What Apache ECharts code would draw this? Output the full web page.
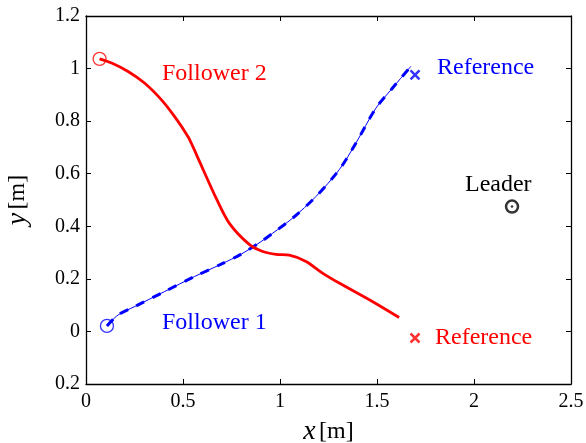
<!DOCTYPE html>
<html>
<head>
<meta charset="utf-8">
<script src="https://cdn.jsdelivr.net/npm/echarts@6/dist/echarts.min.js"></script>
<style>
  html, body { margin: 0; padding: 0; background: #fff; }
  #chart { width: 586px; height: 443px; }
</style>
</head>
<body>
<div id="chart"></div>
<script>
// trajectories, [x, y] in metres
const follower2Path = [
  [0.07, 1.037], [0.132, 1.021], [0.217, 0.989], [0.303, 0.944], [0.389, 0.881],
  [0.457, 0.817], [0.526, 0.741], [0.551, 0.703], [0.586, 0.645], [0.672, 0.505],
  [0.74, 0.41], [0.843, 0.330], [0.911, 0.304], [0.98, 0.293], [1.048, 0.290],
  [1.134, 0.266], [1.219, 0.222], [1.305, 0.184], [1.476, 0.114], [1.614, 0.053]
];
const follower1Path = [
  [0.108, 0.021], [0.166, 0.063], [0.252, 0.095], [0.406, 0.152], [0.56, 0.209],
  [0.697, 0.256], [0.8, 0.294], [0.903, 0.342], [0.963, 0.374], [1.065, 0.431],
  [1.185, 0.513], [1.305, 0.615], [1.391, 0.716], [1.494, 0.849], [1.579, 0.925],
  [1.674, 1.008]
];
const follower1Start = [[0.108, 0.021]];
const follower2Start = [[0.07, 1.037]];
const ref1Goal = [[1.696, 0.976]];
const ref2Goal = [[1.696, -0.025]];
const leaderPos = [[2.196, 0.475]];

const yTickLabels = { '-0.2': '0.2', '0': '0', '0.2': '0.2', '0.4': '0.4', '0.6': '0.6', '0.8': '0.8', '1': '1', '1.2': '1.2' };

const serif = 'Liberation Serif';
const crossPath = 'path://M0,0L10,10M10,0L0,10';

var myChart = echarts.init(document.getElementById('chart'));

const axisBase = {
  type: 'value',
  axisLine: { show: true, onZero: false, lineStyle: { color: '#000', width: 1.3 } },
  axisTick: { show: true, inside: true, length: 5, lineStyle: { color: '#000', width: 1 } },
  splitLine: { show: false }
};

let option = {
  animation: false,
  backgroundColor: '#fff',
  grid: { left: 86, right: 15, top: 16, bottom: 59, containLabel: false, outerBoundsMode: 'none' },
  xAxis: [
    Object.assign({}, axisBase, {
      min: 0, max: 2.5, interval: 0.5, position: 'bottom',
      axisLabel: { color: '#000', fontFamily: serif, fontSize: 20, margin: 8,
        formatter: v => String(v) },
      name: '{i|x} {n|[m]}',
      nameLocation: 'middle', nameGap: 34,
      nameTextStyle: {
        rich: {
          i: { fontFamily: serif, fontStyle: 'italic', fontSize: 28, color: '#000' },
          n: { fontFamily: serif, fontSize: 24, color: '#000' }
        }
      }
    }),
    Object.assign({}, axisBase, {
      min: 0, max: 2.5, interval: 0.5, position: 'top',
      axisLabel: { show: false }
    })
  ],
  yAxis: [
    Object.assign({}, axisBase, {
      min: -0.2, max: 1.2, interval: 0.2, position: 'left',
      axisLabel: { color: '#000', fontFamily: serif, fontSize: 20, margin: 6,
        formatter: v => yTickLabels[String(Math.round(v * 10) / 10)] },
      name: '{i|y} {n|[m]}',
      nameLocation: 'middle', nameGap: 54, nameRotate: 90,
      nameTextStyle: {
        rich: {
          i: { fontFamily: serif, fontStyle: 'italic', fontSize: 28, color: '#000' },
          n: { fontFamily: serif, fontSize: 24, color: '#000' }
        }
      }
    }),
    Object.assign({}, axisBase, {
      min: -0.2, max: 1.2, interval: 0.2, position: 'right',
      axisLabel: { show: false }
    })
  ],
  series: [
    {
      name: 'Follower 1',
      type: 'line',
      data: follower1Path,
      smooth: 0.3,
      showSymbol: false,
      lineStyle: { color: '#0000ff', width: 1 }
    },
    {
      name: 'Follower 1 reference',
      type: 'line',
      data: follower1Path,
      smooth: 0.3,
      showSymbol: false,
      lineStyle: { color: '#0000ff', width: 3, type: [9, 9] }
    },
    {
      name: 'Follower 2',
      type: 'line',
      data: follower2Path,
      smooth: 0.3,
      showSymbol: false,
      lineStyle: { color: '#ff0000', width: 2.8 }
    },
    {
      type: 'scatter',
      data: follower1Start,
      symbol: 'circle',
      symbolSize: 13,
      itemStyle: { color: 'rgba(0,0,0,0)', borderColor: '#0000ff', borderWidth: 1.3 }
    },
    {
      type: 'scatter',
      data: follower2Start,
      symbol: 'circle',
      symbolSize: 13,
      itemStyle: { color: 'rgba(0,0,0,0)', borderColor: '#ff0000', borderWidth: 1.3 }
    },
    {
      type: 'scatter',
      data: ref1Goal,
      symbol: crossPath,
      symbolSize: 9,
      itemStyle: { color: 'rgba(0,0,0,0)', borderColor: '#0000ff', borderWidth: 2.5 }
    },
    {
      type: 'scatter',
      data: ref2Goal,
      symbol: crossPath,
      symbolSize: 9,
      itemStyle: { color: 'rgba(0,0,0,0)', borderColor: '#ff0000', borderWidth: 2.5 }
    },
    {
      type: 'scatter',
      data: leaderPos,
      symbol: 'circle',
      symbolSize: 12,
      itemStyle: { color: 'rgba(0,0,0,0)', borderColor: '#000', borderWidth: 2.5 }
    },
    {
      type: 'scatter',
      data: leaderPos,
      symbol: 'circle',
      symbolSize: 2.5,
      itemStyle: { color: '#000' }
    }
  ],
  graphic: [
    { type: 'text', left: 162, top: 62, style: { text: 'Follower 2', fill: '#ff0000', font: '24px "Liberation Serif"' } },
    { type: 'text', left: 437, top: 56, style: { text: 'Reference', fill: '#0000ff', font: '24px "Liberation Serif"' } },
    { type: 'text', left: 465, top: 173, style: { text: 'Leader', fill: '#000', font: '24px "Liberation Serif"' } },
    { type: 'text', left: 162, top: 311, style: { text: 'Follower 1', fill: '#0000ff', font: '24px "Liberation Serif"' } },
    { type: 'text', left: 435, top: 326, style: { text: 'Reference', fill: '#ff0000', font: '24px "Liberation Serif"' } }
  ]
};
option && myChart.setOption(option);
</script>
</body>
</html>
